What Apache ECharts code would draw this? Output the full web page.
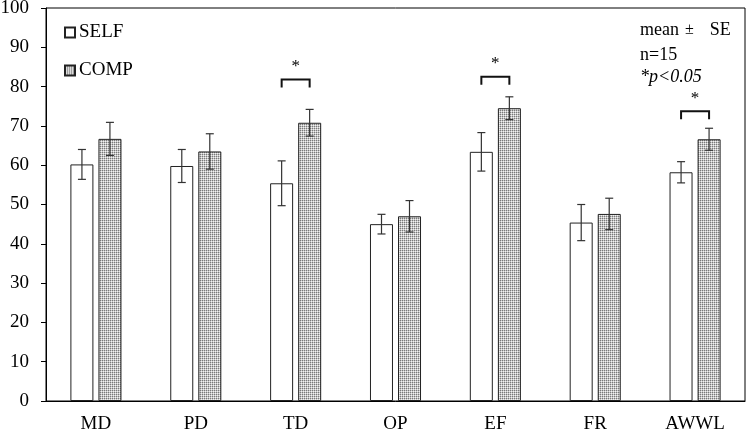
<!DOCTYPE html>
<html>
<head>
<meta charset="utf-8">
<script src="https://cdn.jsdelivr.net/npm/echarts@6/dist/echarts.min.js"></script>
<style>
  html, body { margin: 0; padding: 0; background: #fff; }
  #chart-container { width: 748px; height: 433px; }
</style>
</head>
<body>
<div id="chart-container"></div>
<script>
const categories = ['MD', 'PD', 'TD', 'OP', 'EF', 'FR', 'AWWL']
const selfMean = [60.2, 59.8, 55.4, 45.0, 63.4, 45.4, 58.2]
const selfSE = [3.8, 4.2, 5.7, 2.5, 4.9, 4.6, 2.7]
const compMean = [66.7, 63.5, 70.8, 47.0, 74.5, 47.6, 66.6]
const compSE = [4.2, 4.5, 3.4, 4.0, 2.9, 4.0, 2.8]
// brackets with "*" : [category index, bracket height]
const sigMarks = [[2, 81.8], [4, 82.5], [6, 73.7]]
const yTicks = [0, 10, 20, 30, 40, 50, 60, 70, 80, 90, 100]

const FONT = '"Liberation Serif", "Times New Roman", serif'
const HALF = 14 // px from category center to bar center

// dotted fill for COMP
const pat = document.createElement('canvas')
pat.width = 2
pat.height = 2
const pctx = pat.getContext('2d')
pctx.fillStyle = '#f2f2f2'
pctx.fillRect(0, 0, 2, 2)
pctx.fillStyle = '#7a7a7a'
pctx.fillRect(0, 0, 1, 1)
pctx.fillStyle = '#c4c4c4'
pctx.fillRect(1, 0, 1, 1)
pctx.fillRect(0, 1, 1, 1)

const errData = (means, ses) => means.map((m, i) => [i, m - ses[i], m + ses[i]])

const errRender = side => (params, api) => {
  const c = api.coord([api.value(0), api.value(1)])
  const t = api.coord([api.value(0), api.value(2)])
  const x = c[0] + side * HALF
  const style = { stroke: '#333', lineWidth: 1.2 }
  return {
    type: 'group',
    children: [
      { type: 'line', shape: { x1: x, y1: c[1], x2: x, y2: t[1] }, style },
      { type: 'line', shape: { x1: x - 4, y1: c[1], x2: x + 4, y2: c[1] }, style },
      { type: 'line', shape: { x1: x - 4, y1: t[1], x2: x + 4, y2: t[1] }, style }
    ]
  }
}

const dom = document.getElementById('chart-container')
const myChart = echarts.init(dom, null, { renderer: 'canvas' })

const options = {
  animation: false,
  textStyle: { fontFamily: FONT, color: '#000' },
  grid: {
    left: 46, right: 3, top: 8, bottom: 32,
    outerBoundsMode: 'none',
    containLabel: false,
    show: true, borderColor: '#000', borderWidth: 1
  },
  legend: {
    data: ['SELF', 'COMP'],
    orient: 'vertical',
    left: 64,
    top: 23,
    padding: 0,
    icon: 'rect',
    itemWidth: 10,
    itemHeight: 10,
    itemGap: 19,
    textStyle: { fontFamily: FONT, fontSize: 19, color: '#000', padding: [0, 0, 0, -1] }
  },
  xAxis: {
    type: 'category',
    data: categories,
    axisLine: { lineStyle: { color: '#000' } },
    axisTick: { show: false },
    axisLabel: { fontFamily: FONT, fontSize: 19, color: '#000', margin: 14 }
  },
  yAxis: {
    type: 'value',
    min: 0,
    max: 100,
    interval: 10,
    axisLine: { show: true, lineStyle: { color: '#000' } },
    axisTick: { show: true, length: 5, lineStyle: { color: '#000' } },
    splitLine: { show: false },
    axisLabel: {
      fontFamily: FONT, fontSize: 19, color: '#000', margin: 17,
      formatter: v => yTicks.includes(v) ? String(v) : ''
    }
  },
  graphic: [
    {
      type: 'text', left: 640, top: 21,
      style: {
        text: '{a|mean}{b|±}{a|SE}',
        rich: {
          a: { font: '18px ' + FONT, fill: '#000' },
          b: { font: '16px ' + FONT, fill: '#000', padding: [0, 16, 0, 6] }
        }
      }
    },
    { type: 'text', left: 640, top: 46, style: { text: 'n=15', font: '18px ' + FONT, fill: '#000' } },
    { type: 'text', left: 640, top: 68, style: { text: '*p<0.05', font: 'italic 18px ' + FONT, fill: '#000' } }
  ],
  series: [
    {
      name: 'SELF',
      type: 'bar',
      barWidth: 23,
      barGap: '22%',
      itemStyle: { color: '#fff', borderColor: '#222', borderWidth: 1 },
      data: selfMean
    },
    {
      name: 'COMP',
      type: 'bar',
      barWidth: 23,
      itemStyle: { color: { image: pat, repeat: 'repeat' }, borderColor: '#222', borderWidth: 1 },
      data: compMean
    },
    {
      type: 'custom',
      renderItem: errRender(-1),
      encode: { x: 0, y: [1, 2] },
      data: errData(selfMean, selfSE),
      z: 5
    },
    {
      type: 'custom',
      renderItem: errRender(1),
      encode: { x: 0, y: [1, 2] },
      data: errData(compMean, compSE),
      z: 5
    },
    {
      type: 'custom',
      encode: { x: 0, y: 1 },
      data: sigMarks,
      z: 6,
      renderItem: (params, api) => {
        const p = api.coord([api.value(0), api.value(1)])
        const x1 = p[0] - HALF
        const x2 = p[0] + HALF
        return {
          type: 'group',
          children: [
            {
              type: 'polyline',
              shape: { points: [[x1, p[1] + 8], [x1, p[1]], [x2, p[1]], [x2, p[1] + 8]] },
              style: { stroke: '#111', lineWidth: 2, fill: null }
            },
            {
              type: 'text',
              x: p[0], y: p[1] - 13,
              style: { text: '*', font: '17px ' + FONT, fill: '#000', align: 'center', verticalAlign: 'middle' }
            }
          ]
        }
      }
    }
  ]
}

myChart.setOption(options)
window.addEventListener('resize', myChart.resize)
</script>
</body>
</html>
